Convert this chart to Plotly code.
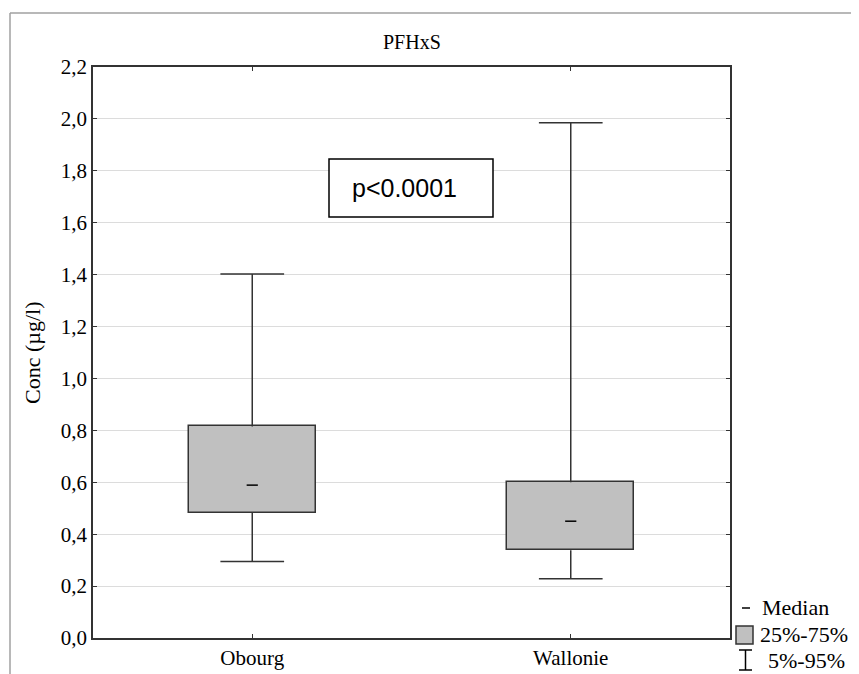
import plotly.graph_objects as go

# ---- data ----
categories = ["Obourg", "Wallonie"]
p5 = [0.295, 0.228]
q1 = [0.483, 0.338]
median = [0.589, 0.450]
q3 = [0.815, 0.600]
p95 = [1.402, 1.985]
y_ticks = [0.0, 0.2, 0.4, 0.6, 0.8, 1.0, 1.2, 1.4, 1.6, 1.8, 2.0, 2.2]
title_text = "PFHxS"
y_title = "Conc (µg/l)"
p_text = "p<0.0001"
legend_labels = ["Median", "25%-75%", "5%-95%"]

W, H = 859, 674
OFF = 8  # page body margin
# plot area in screen pixels: x 93..730, y 67..638
SX0, SX1, SY0, SY1 = 93, 730, 67, 638
L = SX0 - OFF
T = SY0 - OFF
R = W - (SX1 - OFF)
B = H - (SY1 - OFF)
PW, PH = SX1 - SX0, SY1 - SY0

def px(xs_):
    return (xs_ - SX0) / PW

def py(ys_):
    return (SY1 - ys_) / PH

SERIF = "Liberation Serif"
SANS = "Liberation Sans"
LINE = "#333333"
FILL = "#c0c0c0"

xs = list(range(len(categories)))
box_w = 0.4
cap = 0.1

fig = go.Figure()

fig.add_trace(go.Bar(
    x=xs, y=[b - a for a, b in zip(q1, q3)], base=q1, width=box_w,
    marker=dict(color=FILL, line=dict(color=LINE, width=1.5)),
    showlegend=False, hoverinfo="skip"))

wx, wy = [], []
for i in xs:
    wx += [i, i, None, i, i, None, i - cap, i + cap, None, i - cap, i + cap, None]
    wy += [p5[i], q1[i], None, q3[i], p95[i], None, p5[i], p5[i], None, p95[i], p95[i], None]
fig.add_trace(go.Scatter(x=wx, y=wy, mode="lines",
                         line=dict(color=LINE, width=1.5),
                         showlegend=False, hoverinfo="skip"))

fig.add_trace(go.Scatter(x=xs, y=median, mode="markers",
                         marker=dict(symbol="line-ew", size=8,
                                     line=dict(color="black", width=1.5)),
                         showlegend=False, hoverinfo="skip"))

shapes = []
# outer frame (top and left)
shapes.append(dict(type="line", xref="paper", yref="paper",
                   x0=px(10), x1=px(870), y0=py(13), y1=py(13),
                   line=dict(color="#a0a0a0", width=1.5)))
shapes.append(dict(type="line", xref="paper", yref="paper",
                   x0=px(10), x1=px(10), y0=py(13), y1=py(690),
                   line=dict(color="#a0a0a0", width=1.5)))
# p-value box
shapes.append(dict(type="rect", xref="paper", yref="paper",
                   x0=px(329), x1=px(493), y0=py(217), y1=py(159),
                   line=dict(color="black", width=1.5), fillcolor="white"))
# legend symbols
shapes.append(dict(type="line", xref="paper", yref="paper",
                   x0=px(742), x1=px(750), y0=py(608), y1=py(608),
                   line=dict(color="black", width=1.5)))
shapes.append(dict(type="rect", xref="paper", yref="paper",
                   x0=px(736), x1=px(753), y0=py(644), y1=py(626),
                   line=dict(color=LINE, width=1.5), fillcolor=FILL))
shapes.append(dict(type="line", xref="paper", yref="paper",
                   x0=px(745.5), x1=px(745.5), y0=py(670), y1=py(650),
                   line=dict(color="black", width=1.5)))
shapes.append(dict(type="line", xref="paper", yref="paper",
                   x0=px(739), x1=px(752), y0=py(650), y1=py(650),
                   line=dict(color="black", width=1.5)))
shapes.append(dict(type="line", xref="paper", yref="paper",
                   x0=px(739), x1=px(752), y0=py(670), y1=py(670),
                   line=dict(color="black", width=1.5)))

annotations = [
    dict(text=title_text, xref="paper", yref="paper", x=px(411.5), y=py(42),
         showarrow=False, xanchor="center", yanchor="middle",
         font=dict(family=SERIF, size=20, color="black")),
    dict(text=y_title, xref="paper", yref="paper", x=px(32), y=py(353),
         showarrow=False, xanchor="center", yanchor="middle", textangle=-90,
         font=dict(family=SERIF, size=22, color="black")),
    dict(text=p_text, xref="paper", yref="paper", x=px(404), y=py(188),
         showarrow=False, xanchor="center", yanchor="middle",
         font=dict(family=SANS, size=25, color="black")),
    dict(text=legend_labels[0], xref="paper", yref="paper", x=px(760), y=py(607),
         showarrow=False, xanchor="left", yanchor="middle",
         font=dict(family=SERIF, size=22, color="black")),
    dict(text=legend_labels[1], xref="paper", yref="paper", x=px(758), y=py(634),
         showarrow=False, xanchor="left", yanchor="middle",
         font=dict(family=SERIF, size=22, color="black")),
    dict(text=legend_labels[2], xref="paper", yref="paper", x=px(766), y=py(660),
         showarrow=False, xanchor="left", yanchor="middle",
         font=dict(family=SERIF, size=22, color="black")),
]

fig.update_layout(
    width=W, height=H,
    margin=dict(l=L, r=R, t=T, b=B, pad=0),
    paper_bgcolor="white", plot_bgcolor="white",
    separators=",.",
    showlegend=False,
    bargap=0,
    shapes=shapes,
    annotations=annotations,
    xaxis=dict(range=[-0.5, 1.5], tickvals=xs, ticktext=categories,
               showgrid=False, zeroline=False,
               showline=True, linecolor=LINE, linewidth=1.5, mirror="ticks",
               ticks="inside", ticklen=4, tickcolor=LINE,
               tickfont=dict(family=SERIF, size=21, color="black")),
    yaxis=dict(range=[0, 2.2], tickvals=y_ticks, tickformat=".1f",
               showgrid=True, gridcolor="#dcdcdc", gridwidth=1, zeroline=False,
               showline=True, linecolor=LINE, linewidth=1.5, mirror="ticks",
               ticks="inside", ticklen=4, tickcolor=LINE,
               tickfont=dict(family=SERIF, size=21, color="black")),
)

fig.write_html("out.html")
